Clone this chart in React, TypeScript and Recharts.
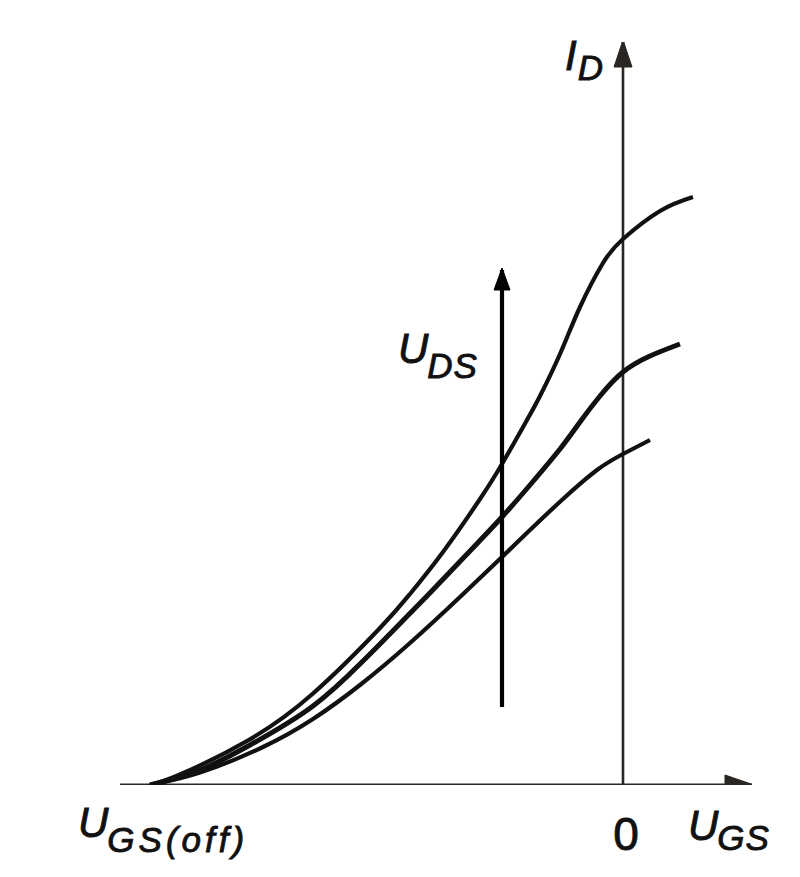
import React from 'react';
import { ComposedChart, Line, XAxis, YAxis, ReferenceDot } from 'recharts';

// Axis extents (U_GS in volts-like units, I_D in current-like units)
const UGS_MIN = -5.03;
const UGS_MAX = 1.29;
const ID_MAX = 7.43;

// Transfer characteristics for three values of U_DS (low → high)
const curveLowUDS = [
  { u: -4.73, id: 0 }, { u: -4.23, id: 0.125 }, { u: -3.6, id: 0.38 }, { u: -3.1, id: 0.66 },
  { u: -2.63, id: 1.0 }, { u: -2.13, id: 1.42 }, { u: -1.63, id: 1.88 }, { u: -1.21, id: 2.28 },
  { u: -0.93, id: 2.55 }, { u: -0.6, id: 2.86 }, { u: -0.26, id: 3.15 }, { u: 0, id: 3.31 },
  { u: 0.27, id: 3.45 },
];
const curveMidUDS = [
  { u: -4.73, id: 0 }, { u: -4.23, id: 0.15 }, { u: -3.73, id: 0.4 }, { u: -3.1, id: 0.79 },
  { u: -2.63, id: 1.21 }, { u: -2.43, id: 1.41 }, { u: -1.96, id: 1.89 }, { u: -1.53, id: 2.34 },
  { u: -1.21, id: 2.68 }, { u: -0.93, id: 3.0 }, { u: -0.63, id: 3.36 }, { u: -0.43, id: 3.63 },
  { u: -0.23, id: 3.89 }, { u: 0, id: 4.13 }, { u: 0.27, id: 4.29 }, { u: 0.57, id: 4.41 },
];
const curveHighUDS = [
  { u: -4.73, id: 0 }, { u: -4.43, id: 0.105 }, { u: -3.76, id: 0.44 }, { u: -3.1, id: 0.915 },
  { u: -2.43, id: 1.57 }, { u: -2.13, id: 1.91 }, { u: -1.8, id: 2.33 }, { u: -1.43, id: 2.86 },
  { u: -1.21, id: 3.21 }, { u: -0.96, id: 3.65 }, { u: -0.83, id: 3.89 }, { u: -0.63, id: 4.31 },
  { u: -0.43, id: 4.78 }, { u: -0.2, id: 5.22 }, { u: 0, id: 5.46 }, { u: 0.37, id: 5.74 },
  { u: 0.7, id: 5.88 },
];

// Axis lines and the "U_DS increasing" arrow
const xAxisArrow = [{ u: UGS_MIN, id: 0 }, { u: UGS_MAX, id: 0 }];
const yAxisArrow = [{ u: 0, id: 0 }, { u: 0, id: ID_MAX }];
const udsArrow = [{ u: -1.21, id: 0.78 }, { u: -1.21, id: 5.15 }];

// Label anchors
const labelID = { u: -0.58, id: 7.15 };
const labelUDS = { u: -2.25, id: 4.22 };
const labelUGSoff = { u: -5.45, id: -0.52 };
const labelZero = { u: 0.03, id: -0.65 };
const labelUGS = { u: 0.65, id: -0.55 };

const FONT = "'Liberation Sans', Arial, Helvetica, sans-serif";
const INK = '#111';
const AXIS = '#2a2623';

const arrowHead = (dir: 'up' | 'right', len: number, half: number, color: string) => (p: any) => {
  if (p.index !== 1) return <g key={`n${p.index}`} />;
  const { cx, cy } = p;
  const pts =
    dir === 'up'
      ? `${cx},${cy - 2} ${cx - half},${cy + len} ${cx + half},${cy + len}`
      : `${cx + 2},${cy} ${cx - len},${cy - half} ${cx - len},${cy + half}`;
  return <polygon key={`a${p.index}`} points={pts} fill={color} stroke={color} strokeWidth={1} />;
};

const symLabel = (
  main: string,
  sub: string,
  subDy: number,
  mainSize: number,
  subSize: number,
  subDx = 0,
  subSpacing = 0
) => (p: any) => (
  <text
    x={p.cx}
    y={p.cy}
    fontFamily={FONT}
    fill={INK}
    stroke={INK}
    strokeWidth={0.9}
    fontStyle="italic"
  >
    <tspan fontSize={mainSize}>{main}</tspan>
    <tspan fontSize={subSize} dy={subDy} dx={subDx} letterSpacing={subSpacing}>
      {sub}
    </tspan>
  </text>
);

const zeroLabel = (p: any) => (
  <text
    x={p.cx}
    y={p.cy}
    fontFamily={FONT}
    fill={INK}
    stroke={INK}
    strokeWidth={0.9}
    fontSize={46}
    textAnchor="middle"
  >
    0
  </text>
);

export default function App() {
  return (
    <ComposedChart
      width={784}
      height={861}
      margin={{ top: 34, right: 40, bottom: 84, left: 112 }}
      style={{ background: '#fff' }}
    >
      <XAxis dataKey="u" type="number" domain={[UGS_MIN, UGS_MAX]} hide allowDataOverflow />
      <YAxis dataKey="id" type="number" domain={[0, ID_MAX]} hide allowDataOverflow />

      <Line
        data={xAxisArrow}
        dataKey="id"
        type="linear"
        stroke={AXIS}
        strokeWidth={2.8}
        dot={arrowHead('right', 27, 10, AXIS)}
        activeDot={false}
        isAnimationActive={false}
      />
      <Line
        data={yAxisArrow}
        dataKey="id"
        type="linear"
        stroke={AXIS}
        strokeWidth={2.6}
        dot={arrowHead('up', 25, 9, AXIS)}
        activeDot={false}
        isAnimationActive={false}
      />
      <Line
        data={curveLowUDS}
        dataKey="id"
        type="natural"
        stroke={INK}
        strokeWidth={4.2}
        dot={false}
        activeDot={false}
        isAnimationActive={false}
      />
      <Line
        data={curveMidUDS}
        dataKey="id"
        type="natural"
        stroke={INK}
        strokeWidth={5}
        dot={false}
        activeDot={false}
        isAnimationActive={false}
      />
      <Line
        data={curveHighUDS}
        dataKey="id"
        type="natural"
        stroke={INK}
        strokeWidth={4.2}
        dot={false}
        activeDot={false}
        isAnimationActive={false}
      />
      <Line
        data={udsArrow}
        dataKey="id"
        type="linear"
        stroke="#000"
        strokeWidth={4.2}
        dot={arrowHead('up', 20, 8, '#000')}
        activeDot={false}
        isAnimationActive={false}
      />

      <ReferenceDot x={labelID.u} y={labelID.id} r={1} ifOverflow="visible" shape={symLabel('I', 'D', 10, 42, 35, 1)} />
      <ReferenceDot x={labelUDS.u} y={labelUDS.id} r={1} ifOverflow="visible" shape={symLabel('U', 'DS', 15, 42, 35, -1, 1)} />
      <ReferenceDot x={labelUGSoff.u} y={labelUGSoff.id} r={1} ifOverflow="visible" shape={symLabel('U', 'GS(off)', 15, 42, 35, -1, 4)} />
      <ReferenceDot x={labelZero.u} y={labelZero.id} r={1} ifOverflow="visible" shape={zeroLabel} />
      <ReferenceDot x={labelUGS.u} y={labelUGS.id} r={1} ifOverflow="visible" shape={symLabel('U', 'GS', 10, 42, 35, -1, 1)} />
    </ComposedChart>
  );
}
